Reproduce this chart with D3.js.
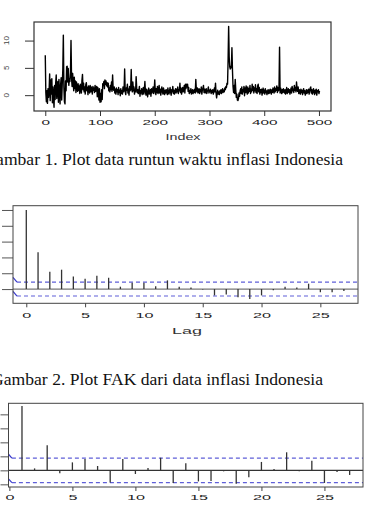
<!DOCTYPE html>
<html>
<head>
<meta charset="utf-8">
<script src="https://cdn.jsdelivr.net/npm/d3@7"></script>
<style>
  html, body { margin: 0; padding: 0; background: #fff; }
  svg { display: block; }
</style>
</head>
<body>
<div id="chart"></div>
<script>
// monthly inflation series
const inflasi = [
  7.3, 0.5, -1.2, 0.8, -1.5, 1.2, -0.4, 0.9, 3.9, -1.0, 2.8, 0.2, 3.0, -1.4, 1.5, -0.5, -2.2, 1.8, -0.8, 2.2,
  3.7, -0.6, 1.0, 2.5, -1.3, 2.9, 0.4, -1.6, 1.9, 3.2, -0.9, 2.0, 4.5, 11.0, 1.5, -1.2, -1.6, 2.6, 0.8, 5.2,
  5.3, 2.4, 4.9, 1.8, 3.0, 2.5, 4.2, 10.0, 3.1, 1.6, 4.0, 2.2, 0.8, 3.3, 1.2, 2.6, 0.5, 2.4, 1.3, 0.7,
  2.1, 0.9, 1.7, 0.3, 2.0, 1.1, 0.4, 2.7, 3.8, 1.0, 2.2, 0.6, 1.5, 0.2, 1.9, 2.3, 0.8, 1.4, 0.1, 1.7,
  1.2, 0.4, 1.8, 0.6, 1.5, 1.0, 0.2, 1.6, 0.9, 1.3, 0.5, 1.8, 0.7, 1.1, 1.6, -0.3, 1.4, 0.8, -0.9, 1.2,
  -1.3, 0.3, -1.2, 1.0, -0.8, 2.1, 1.8, 2.5, 1.2, 2.8, 2.0, 2.6, 1.7, 2.3, 1.5, 2.2, 0.8, 1.3, 0.6, 1.8,
  1.0, 2.4, 0.7, 3.7, 1.2, 0.9, 1.5, 0.4, 1.1, 0.2, 1.3, 0.6, 1.0, 0.1, 1.4, 0.5, 0.9, -0.1, 1.2, 0.3,
  0.8, 0.2, 1.5, 0.6, 1.0, 4.8, 0.7, 0.1, 1.3, 0.9, 2.0, 0.4, 1.1, 0.0, 1.6, 0.8, 1.2, 4.7, 1.0, 0.6,
  2.4, 0.8, 1.5, 0.2, 1.1, 0.6, 3.4, 1.3, 0.5, 1.0, 0.3, 0.9, 1.6, -0.2, 0.8, 0.4, 1.2, 0.1, 0.7, 1.4,
  0.2, 0.9, 2.5, 0.6, 0.0, 1.1, 0.5, -0.3, 0.8, 1.3, 0.2, 0.7, 1.0, -0.2, 1.2, 0.4, 0.9, 1.5, 0.3, 1.0,
  2.8, 0.6, 0.1, 1.2, 0.5, 1.6, 0.3, 0.8, 1.8, 0.4, 1.1, 0.0, 0.9, 1.5, 0.6, 0.2, 1.3, 0.7, 0.1, 0.9,
  0.4, 1.0, 0.5, 0.1, 1.3, 0.6, 0.2, 0.8, 1.4, 0.5, 0.0, 1.0, 0.6, 1.6, 0.3, 0.9, 0.2, 0.7, 1.2, 0.4,
  1.1, 0.6, 1.5, 0.3, 1.0, 0.8, 2.2, 0.5, 1.3, 0.2, 0.9, 1.4, 0.6, 1.1, 1.8, 0.4, 2.0, 1.2, 2.0, 1.5,
  2.0, 0.7, 1.4, 0.3, 0.8, 0.5, 1.2, 0.2, 0.6, 1.0, 0.3, 0.9, 0.5, 1.1, 0.4, 2.9, 1.0, 0.6, 1.3, 0.4,
  0.8, 1.2, 0.3, 1.0, 0.6, 1.5, 0.2, 0.9, 1.3, 1.8, 0.5, 1.1, 0.4, 0.8, 1.2, 0.3, 0.7, 1.0, 1.5, 0.4,
  0.9, 0.6, 1.1, 0.3, 0.8, 0.5, 1.0, 0.2, 0.7, 1.3, 0.6, 2.2, 0.4, -0.5, 0.3, 0.9, 0.2, 0.6, 0.1, 0.8,
  0.4, 1.0, 0.3, 0.7, 1.2, 0.5, 0.9, 0.6, 1.3, 1.0, 1.6, 1.4, 2.2, 2.0, 6.5, 12.6, 7.0, 5.2, 4.8, 5.3,
  5.0, 8.7, 4.5, 1.6, 0.5, 1.8, 0.3, 2.9, 1.0, -0.4, 0.2, -0.9, -1.0, -0.6, 0.4, -0.2, 0.8, 1.2, 0.3, 1.5,
  0.2, 1.0, 0.6, 1.6, -0.1, 1.3, 0.5, 1.7, 0.8, 0.2, 1.5, 0.4, 1.2, 0.7, 1.8, 0.3, 1.1, 0.6, 2.0, 0.9,
  1.6, 0.4, 1.3, 0.8, 1.9, 0.5, 1.2, 0.3, 1.7, 2.0, 0.6, 1.4, 0.2, 1.0, 0.5, 1.1, 0.0, 0.7, 1.3, 0.4,
  0.9, 0.2, 1.2, 0.5, 0.8, 0.1, 0.7, 1.0, 0.3, 0.9, 0.4, 1.1, 0.6, 0.2, 1.0, 0.5, 1.3, 0.8, 0.4, 1.5,
  0.6, 1.2, 0.9, 1.7, 0.5, 1.4, 0.8, 1.1, 8.8, 0.4, 1.3, 0.9, 0.3, 1.0, 0.5, 1.2, 0.7, 0.4, 1.0, 0.2,
  0.8, 1.4, 0.3, 0.9, 1.2, 0.5, 1.0, 0.2, 0.7, 1.3, 0.4, 1.6, 0.8, 1.1, 0.5, 1.8, 0.9, 1.4, 0.6, 2.4,
  1.2, 0.7, 1.5, 0.3, 1.0, 0.6, 0.2, 1.1, 0.5, 0.9, 0.1, 0.7, 1.2, 0.4, 0.8, 0.0, 0.6, 1.0, 0.3, 0.9,
  0.5, 1.1, 0.2, 0.8, 1.3, 1.5, 0.4, 1.0, 0.2, 0.7, 1.2, 0.5, 0.1, 0.9, 0.4, 1.1, 0.0, 0.8, 0.6, 1.0,
  0.3, 0.8
];
const indexTicks = [0, 100, 200, 300, 400, 500];
const inflasiTicks = [0, 5, 10];

// FAK (ACF), lag 0..27
const fak = [1.0, 0.464, 0.219, 0.245, 0.160, 0.131, 0.169, 0.143, 0.030, 0.080, 0.080, 0.034, 0.110, 0.030,
  0.020, -0.005, -0.080, -0.068, -0.105, -0.127, -0.080, -0.015, 0.030, 0.020, 0.068, -0.040, -0.040, -0.025];
const fakTicks = [0, 0.2, 0.4, 0.6, 0.8, 1.0];

// FAKP (PACF), lag 1..27
const fakp = [0.46, 0.014, 0.179, -0.021, 0.057, 0.081, 0.031, -0.086, 0.081, -0.026, 0.017, 0.09, -0.09,
  0.05, -0.079, -0.076, -0.007, -0.095, -0.05, 0.06, 0.01, 0.129, -0.007, 0.069, -0.09, -0.012, -0.033];
const fakpTicks = [-0.1, 0, 0.1, 0.2, 0.3, 0.4];

const lagTicks = [0, 5, 10, 15, 20, 25];
const batas = 0.088; // 1.96/sqrt(n)

const captions = ['Gambar 1. Plot data runtun waktu inflasi Indonesia', 'Gambar 2. Plot FAK dari data inflasi Indonesia'];

const width = 365, height = 510;
const svg = d3.select('#chart').append('svg')
  .attr('width', width).attr('height', height)
  .attr('viewBox', `0 0 ${width} ${height}`);

const tickFont = 'Liberation Sans, Arial, sans-serif';
const bandColor = '#5f5fd8';

// stretch the tick labels to the wide look of the original png
function stretch(sel, perChar) {
  sel.attr('textLength', function () { return this.textContent.length * perChar; })
    .attr('lengthAdjust', 'spacingAndGlyphs');
}

function styleAxis(g, color) {
  g.select('.domain').remove();
  g.selectAll('line').attr('stroke', color).attr('stroke-width', 1);
  g.selectAll('text').attr('font-family', tickFont).attr('font-size', 8).attr('fill', '#222');
}

// ---------- Gambar 1: time series ----------
const x1 = d3.scaleLinear().domain([-20.6, 522]).range([34, 331]);
const y1 = d3.scaleLinear().domain([-2.9, 13.4]).range([111, 22]);

const p1 = svg.append('g');
p1.append('g')
  .attr('transform', 'translate(0,111)')
  .call(d3.axisBottom(x1).tickValues(indexTicks).tickSize(5).tickPadding(3))
  .call(g => styleAxis(g, '#333'))
  .call(g => stretch(g.selectAll('text'), 8.5));

p1.append('g')
  .attr('transform', 'translate(34,0)')
  .call(d3.axisLeft(y1).tickValues(inflasiTicks).tickSize(9).tickFormat(''))
  .call(g => styleAxis(g, '#333'));

p1.append('g').selectAll('text')
  .data(inflasiTicks)
  .join('text')
  .attr('transform', d => `translate(9,${y1(d)}) rotate(-90)`)
  .attr('text-anchor', 'middle')
  .attr('font-family', tickFont)
  .attr('font-size', 8)
  .attr('fill', '#444')
  .text(d => d);

p1.append('path')
  .datum(inflasi)
  .attr('fill', 'none')
  .attr('stroke', '#000')
  .attr('stroke-width', 1.4)
  .attr('stroke-linejoin', 'round')
  .attr('d', d3.line().x((d, i) => x1(i)).y(d => y1(d)));

p1.append('rect')
  .attr('x', x1.range()[0]).attr('y', y1.range()[1])
  .attr('width', x1.range()[1] - x1.range()[0])
  .attr('height', y1.range()[0] - y1.range()[1])
  .attr('fill', 'none').attr('stroke', '#333').attr('stroke-width', 1.2);

p1.append('text')
  .attr('x', 183).attr('y', 140)
  .attr('text-anchor', 'middle')
  .attr('font-family', tickFont).attr('font-size', 9).attr('fill', '#333')
  .text('Index')
  .call(t => stretch(t, 7));

// ---------- shared ACF-style panel ----------
function drawCorr(cfg) {
  const { x, y, values, startLag, yTicks, zeroColor } = cfg;
  const g = svg.append('g');
  const [bottom, top] = y.range();
  const [left, right] = x.range();

  g.append('g')
    .attr('transform', `translate(0,${bottom})`)
    .call(d3.axisBottom(x).tickValues(lagTicks).tickSize(4).tickPadding(cfg.pad))
    .call(a => styleAxis(a, '#444'))
    .call(a => stretch(a.selectAll('text'), 9));

  g.append('g')
    .attr('transform', `translate(${left},0)`)
    .call(d3.axisLeft(y).tickValues(yTicks).tickSize(cfg.ytick).tickFormat(''))
    .call(a => styleAxis(a, '#555'));

  // confidence limits
  const x0 = x.domain()[0];
  [batas, -batas].forEach(b => {
    g.append('line')
      .attr('x1', x(x0 + cfg.slant)).attr('x2', right)
      .attr('y1', y(b)).attr('y2', y(b))
      .attr('stroke', bandColor).attr('stroke-width', 1.2)
      .attr('stroke-dasharray', '4,3');
    g.append('line')
      .attr('x1', x(x0)).attr('x2', x(x0 + cfg.slant))
      .attr('y1', y(b + cfg.rise)).attr('y2', y(b))
      .attr('stroke', '#3838cc').attr('stroke-width', 1.2);
  });

  g.append('line')
    .attr('x1', left).attr('x2', right)
    .attr('y1', y(0)).attr('y2', y(0))
    .attr('stroke', zeroColor).attr('stroke-width', 1.3);

  g.append('g').selectAll('line')
    .data(values)
    .join('line')
    .attr('x1', (d, i) => x(i + startLag)).attr('x2', (d, i) => x(i + startLag))
    .attr('y1', y(0)).attr('y2', d => y(d))
    .attr('stroke', '#333').attr('stroke-width', 1.3);

  g.append('rect')
    .attr('x', left).attr('y', top)
    .attr('width', right - left).attr('height', bottom - top)
    .attr('fill', 'none').attr('stroke', '#444').attr('stroke-width', 1);
  return g;
}

// ---------- Gambar 2: FAK ----------
const x2 = d3.scaleLinear().domain([-1.13, 28.2]).range([13, 358]);
const y2 = d3.scaleLinear().domain([-0.18, 1.054]).range([303.3, 205.7]);
const p2 = drawCorr({ x: x2, y: y2, values: fak, startLag: 0, yTicks: fakTicks, zeroColor: '#777',
  pad: 5, ytick: 11, slant: 0.34, rise: 0.06 });
p2.append('text')
  .attr('x', 187).attr('y', 334)
  .attr('text-anchor', 'middle')
  .attr('font-family', tickFont).attr('font-size', 9).attr('fill', '#333')
  .text('Lag')
  .call(t => stretch(t, 10));

// ---------- Gambar 3: FAKP ----------
const x3 = d3.scaleLinear().domain([-0.07, 28.06]).range([8.5, 363]);
const y3 = d3.scaleLinear().domain([-0.119, 0.479]).range([487, 403.3]);
drawCorr({ x: x3, y: y3, values: fakp, startLag: 1, yTicks: fakpTicks, zeroColor: '#333',
  pad: 3, ytick: 8, slant: 0.27, rise: 0.027 });

// ---------- captions ----------
svg.append('g').selectAll('text')
  .data(captions)
  .join('text')
  .attr('x', (d, i) => [343, 323][i])
  .attr('y', (d, i) => [165, 385][i])
  .attr('text-anchor', 'end')
  .attr('font-family', 'Liberation Serif, Times New Roman, serif')
  .attr('font-size', 17.6)
  .attr('fill', '#111')
  .text(d => d);
</script>
</body>
</html>
